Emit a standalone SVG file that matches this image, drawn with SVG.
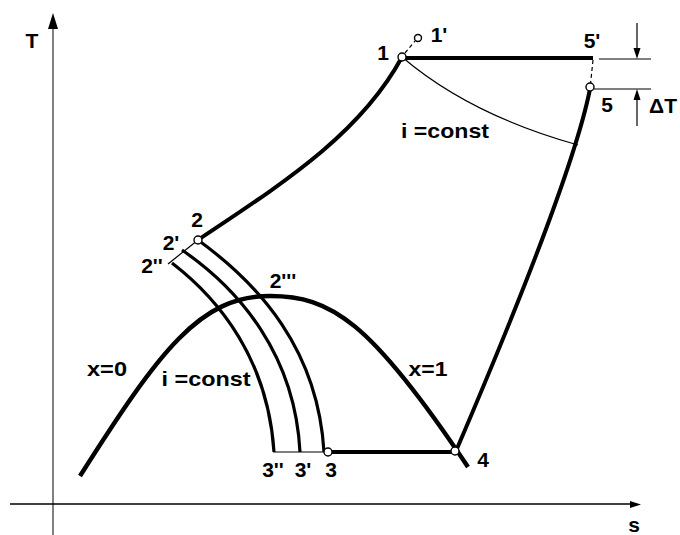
<svg xmlns="http://www.w3.org/2000/svg" width="680" height="535" viewBox="0 0 680 535">
<style>
.lbl{font-family:"Liberation Sans",Arial,sans-serif;font-weight:bold;font-size:21px;fill:#000;text-anchor:middle}
.thick{fill:none;stroke:#000;stroke-width:4;stroke-linecap:butt}
.dome{fill:none;stroke:#000;stroke-width:4.5}
.mid{fill:none;stroke:#000;stroke-width:3.2}
.thin{fill:none;stroke:#000;stroke-width:1.2}
.dash{fill:none;stroke:#000;stroke-width:1.2;stroke-dasharray:4 3}
.pt{fill:#fff;stroke:#000;stroke-width:1.4}
</style>
<rect width="680" height="535" fill="#fff"/>
<g id="axes">
<line x1="53" y1="535" x2="53" y2="28" stroke="#808080" stroke-width="2"/>
<polygon points="53,13 48,29 58,29" fill="#000"/>
<line x1="10" y1="504" x2="631" y2="504" stroke="#000" stroke-width="1.5"/>
<polygon points="641,504.5 630,501 630,508" fill="#000"/>
<text class="lbl" x="32" y="48">T</text>
<text class="lbl" x="634" y="532">s</text>
</g>
<g id="connectors">
<path id="x0" class="dome" d="M80,476 C160,350 200,296 270,296"/>
<path id="x1" class="dome" d="M270,296 C330,296 370,320 468,467"/>
<path class="thick" d="M198,240 C280,185 360,135 402,57"/>
<line class="thick" x1="402" y1="58" x2="593" y2="58"/>
<path class="thick" d="M590,89 Q572,180 456,451"/>
<path class="mid" d="M198,240 C260,285 318,350 324,452"/>
<path class="mid" d="M182,250 C240,290 295,355 300,452"/>
<path class="mid" d="M172,263 C220,300 268,360 274,452"/>
<line class="thin" x1="198" y1="240" x2="168" y2="264"/>
<line class="thin" x1="273" y1="452" x2="326" y2="452"/>
<line class="thick" x1="326" y1="452" x2="455" y2="452"/>
<path class="thin" d="M402,57 Q470,115 578,145"/>
<line class="dash" x1="405" y1="53" x2="415" y2="41"/>
<line class="dash" x1="593" y1="60" x2="590.5" y2="84"/>
<line class="thin" x1="599" y1="59" x2="651" y2="59"/>
<line class="thin" x1="594" y1="89" x2="651" y2="89"/>
<line class="thin" x1="637" y1="23" x2="637" y2="50"/>
<polygon points="637,59 633.5,48 640.5,48" fill="#000"/>
<line class="thin" x1="637" y1="98" x2="637" y2="126"/>
<polygon points="637,89 633.5,100 640.5,100" fill="#000"/>
</g>
<g id="p1"><circle class="pt" cx="402" cy="57" r="4"/><text class="lbl" x="383" y="60">1</text></g>
<g id="p1s"><circle class="pt" cx="418" cy="38" r="3.5"/><text class="lbl" x="439" y="42">1'</text></g>
<g id="p5s"><text class="lbl" x="592" y="48">5'</text></g>
<g id="p5"><circle class="pt" cx="590" cy="87" r="4"/><text class="lbl" x="607" y="112">5</text></g>
<g id="dT"><text class="lbl" x="663" y="113">ΔT</text></g>
<g id="p2"><circle class="pt" cx="198" cy="240" r="4"/><text class="lbl" x="197" y="227">2</text></g>
<g id="p2s"><text class="lbl" x="171" y="250">2'</text></g>
<g id="p2ss"><text class="lbl" x="152" y="273">2''</text></g>
<g id="p2sss"><text class="lbl" x="283" y="288">2'''</text></g>
<g id="p3ss"><text class="lbl" x="273" y="477">3''</text></g>
<g id="p3s"><text class="lbl" x="303" y="477">3'</text></g>
<g id="p3"><circle class="pt" cx="328" cy="452" r="4"/><text class="lbl" x="331" y="477">3</text></g>
<g id="p4"><circle class="pt" cx="455" cy="451" r="4"/><text class="lbl" x="483" y="467">4</text></g>
<g id="labels">
<text class="lbl" x="107" y="376" textLength="40" lengthAdjust="spacingAndGlyphs">x=0</text>
<text class="lbl" x="428" y="376" textLength="39" lengthAdjust="spacingAndGlyphs">x=1</text>
<text class="lbl" x="445" y="138" textLength="88" lengthAdjust="spacingAndGlyphs">i =const</text>
<text class="lbl" x="206" y="386" textLength="89" lengthAdjust="spacingAndGlyphs">i =const</text>
</g>
</svg>
